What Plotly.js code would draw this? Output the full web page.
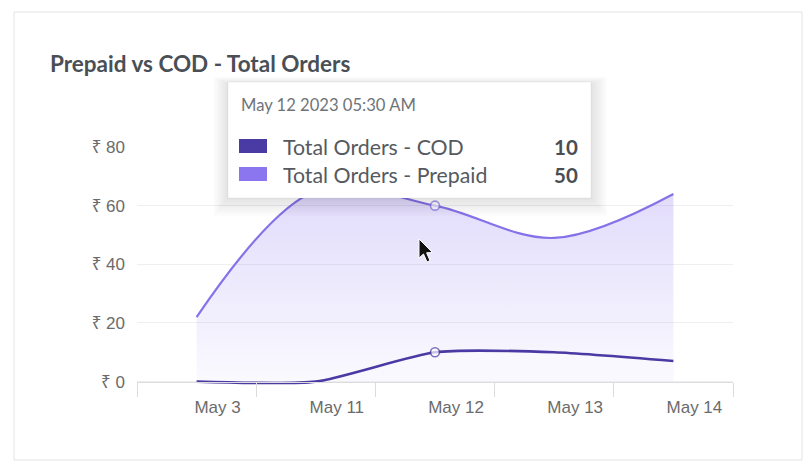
<!DOCTYPE html>
<html>
<head>
<meta charset="utf-8">
<script src="https://cdn.plot.ly/plotly-3.0.1.min.js"></script>
<style>
  html, body { margin: 0; padding: 0; background: #ffffff; }
  #chart { width: 812px; height: 472px; }
</style>
</head>
<body>
<div id="chart"></div>
<script>
// ---- data ----
const categories = ['May 3', 'May 11', 'May 12', 'May 13', 'May 14'];
const codOrders = [0, 0, 10, 10, 7];
const prepaidOrders = [22, 65, 50, 39, 57];
const yTickValues = [0, 20, 40, 60, 80];
const yTickLabels = ['₹ 0', '₹ 20', '₹ 40', '₹ 60', '₹ 80'];
const seriesNames = ['Total Orders - COD', 'Total Orders - Prepaid'];
const tooltipDate = 'May 12 2023 05:30 AM';
const highlightIndex = 2;

// ---- styling ----
const W = 812, H = 472;
const M = { l: 137, r: 79, t: 147, b: 86 };
const PW = W - M.l - M.r, PH = H - M.t - M.b;
const yMin = -1.5, yMax = 80;
const px = p => (p - M.l) / PW;          // pixel -> paper x
const py = p => (H - M.b - p) / PH;      // pixel -> paper y

const codColor = '#4a3aa4';
const prepaidColor = '#8671e8';
const markerSizes = categories.map((c, i) => i === highlightIndex ? 9 : 0);

const traces = [
  {
    x: categories, y: codOrders, name: seriesNames[0], type: 'scatter', mode: 'lines+markers',
    stackgroup: 'one', fill: 'tozeroy',
    line: { color: codColor, width: 2.6, shape: 'spline', smoothing: 0.6 },
    marker: { size: markerSizes, color: '#ffffff', line: { color: codColor, width: 1.6 } },
    fillcolor: 'rgba(139,116,240,0.05)'
  },
  {
    x: categories, y: prepaidOrders, name: seriesNames[1], type: 'scatter', mode: 'lines+markers',
    stackgroup: 'one', fill: 'tonexty',
    line: { color: prepaidColor, width: 2.2, shape: 'spline', smoothing: 1 },
    marker: { size: markerSizes, color: '#ffffff', line: { color: prepaidColor, width: 1.6 } },
    fillgradient: {
      type: 'vertical',
      start: 0, stop: 66,
      colorscale: [[0, 'rgba(139,116,240,0.04)'], [1, 'rgba(139,116,240,0.26)']]
    }
  }
];

function rectPx(x0, y0, x1, y1, opts) {
  return Object.assign({
    type: 'rect', xref: 'paper', yref: 'paper',
    x0: px(x0), x1: px(x1), y0: py(y1), y1: py(y0), layer: 'above'
  }, opts);
}

const shapes = [];
// card border
shapes.push(rectPx(14, 12, 802, 460, { layer: 'below', line: { color: '#e4e4e6', width: 1 }, fillcolor: 'rgba(0,0,0,0)' }));
// tooltip shadow
for (let k = 1; k <= 9; k++) {
  shapes.push(rectPx(228 - k * 1.6, 82 - k * 0.8 + 2, 591 + k * 1.8, 198 + k * 2.0, {
    line: { width: 0 }, fillcolor: 'rgba(0,0,0,0.010)'
  }));
}
// tooltip box
shapes.push(rectPx(228, 82, 591, 198, { line: { color: 'rgba(0,0,0,0.05)', width: 1 }, fillcolor: '#ffffff' }));
// swatches
shapes.push(rectPx(239, 139, 267, 153, { line: { width: 0 }, fillcolor: codColor }));
shapes.push(rectPx(239, 167, 267, 181, { line: { width: 0 }, fillcolor: '#8b76ef' }));
// mouse cursor
const cur = [[419, 239], [419, 258], [423.5, 254], [427, 262], [430, 260.6], [426.6, 252.8], [432.5, 252.5]];
shapes.push({
  type: 'path', xref: 'paper', yref: 'paper', layer: 'above',
  path: 'M' + cur.map(p => px(p[0]) + ',' + py(p[1])).join(' L') + ' Z',
  fillcolor: '#111111', line: { color: '#ffffff', width: 1 }
});

const annFont = { family: 'Lato, "Open Sans", sans-serif', color: '#555a60' };
const annotations = [
  { text: tooltipDate, x: px(239), y: py(105), xanchor: 'left', yanchor: 'middle',
    font: Object.assign({}, annFont, { size: 16.6, color: '#707478' }) },
  { text: seriesNames[0], x: px(281), y: py(147), xanchor: 'left', yanchor: 'middle',
    font: Object.assign({}, annFont, { size: 21.3 }) },
  { text: seriesNames[1], x: px(281), y: py(175), xanchor: 'left', yanchor: 'middle',
    font: Object.assign({}, annFont, { size: 21.3 }) },
  { text: '<b>' + codOrders[highlightIndex] + '</b>', x: px(580), y: py(147), xanchor: 'right', yanchor: 'middle',
    font: Object.assign({}, annFont, { size: 20.5, color: '#4a4e54' }) },
  { text: '<b>' + prepaidOrders[highlightIndex] + '</b>', x: px(580), y: py(175), xanchor: 'right', yanchor: 'middle',
    font: Object.assign({}, annFont, { size: 20.5, color: '#4a4e54' }) }
].map(a => Object.assign({ xref: 'paper', yref: 'paper', showarrow: false }, a));

const axisFont = { family: '"Liberation Sans", Arial, "Noto Sans", sans-serif', size: 17, color: '#6b6b6b' };

const layout = {
  width: W, height: H,
  margin: M,
  paper_bgcolor: '#ffffff',
  plot_bgcolor: 'rgba(0,0,0,0)',
  showlegend: false,
  hovermode: false,
  title: {
    text: '<b>Prepaid vs COD - Total Orders</b>',
    xref: 'container', yref: 'container',
    x: 50 / W, xanchor: 'left',
    y: 1 - 64 / H, yanchor: 'middle',
    font: { family: 'Lato, "Open Sans", sans-serif', size: 22.5, color: '#4a4f56' }
  },
  xaxis: {
    type: 'category',
    range: [-0.5, categories.length - 0.5],
    anchor: 'free', position: (0 - yMin) / (yMax - yMin),
    showgrid: false, zeroline: false,
    showline: true, linecolor: '#dcdcdf', linewidth: 1,
    ticks: 'outside', tickson: 'boundaries', ticklen: 14, tickcolor: '#dcdcdf', tickwidth: 1,
    ticklabelshift: 21,
    ticklabelstandoff: 10,
    tickfont: axisFont,
    fixedrange: true
  },
  yaxis: {
    range: [yMin, yMax],
    tickvals: yTickValues, ticktext: yTickLabels,
    showgrid: true, gridcolor: '#efeff1', gridwidth: 1,
    zeroline: false, showline: false, ticks: '',
    ticklabelstandoff: 11,
    tickfont: axisFont,
    fixedrange: true
  },
  shapes: shapes,
  annotations: annotations
};

Plotly.newPlot('chart', traces, layout, { displayModeBar: false, staticPlot: true });
</script>
</body>
</html>
